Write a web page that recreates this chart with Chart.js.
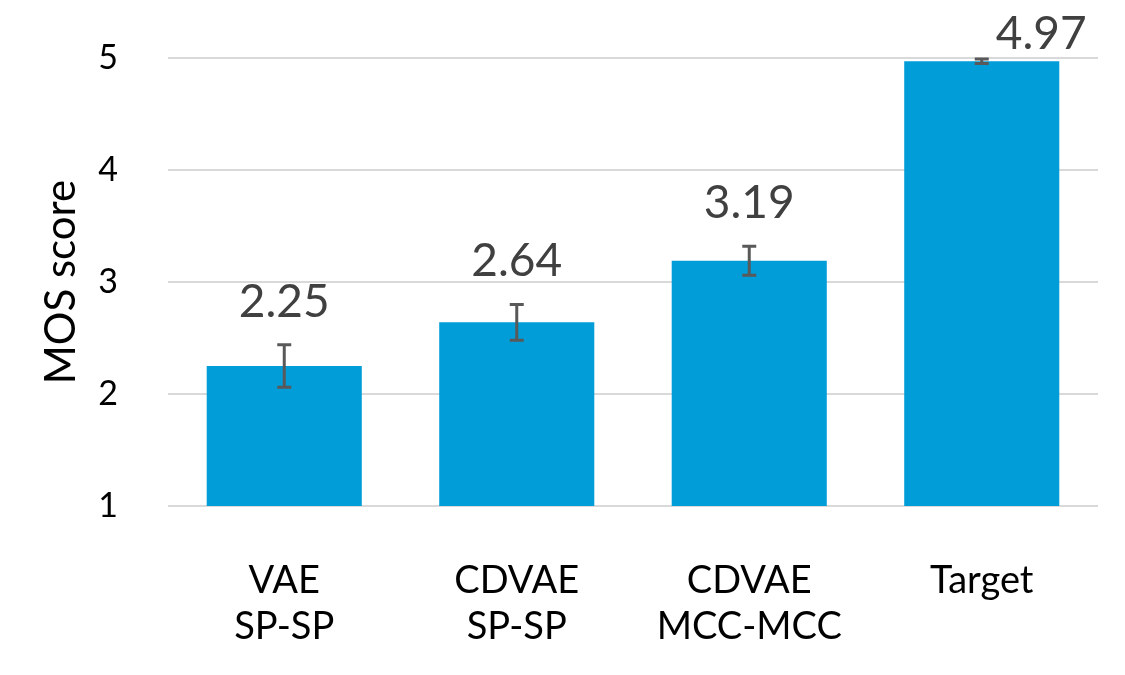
<!DOCTYPE html>
<html>
<head>
<meta charset="utf-8">
<script src="https://cdn.jsdelivr.net/npm/chart.js@4.4.0/dist/chart.umd.min.js"></script>
<style>
  html, body { margin: 0; padding: 0; background: #ffffff; }
  #wrap { width: 1125px; height: 675px; }
</style>
</head>
<body>
<div id="wrap"><canvas id="mosChart" width="1125" height="675"></canvas></div>
<script>
// Datos del gráfico
var categorias = [['VAE', 'SP-SP'], ['CDVAE', 'SP-SP'], ['CDVAE', 'MCC-MCC'], 'Target'];
var puntajes = [2.25, 2.64, 3.19, 4.97];
var errores = [0.19, 0.16, 0.13, 0.02];
var etiquetas = ['2.25', '2.64', '3.19', '4.97'];
var ticksY = [1, 2, 3, 4, 5];

Chart.defaults.font.family = "Lato, 'Open Sans', sans-serif";
Chart.defaults.color = '#000000';

// Barras de error y etiquetas de valor
var errorBarsPlugin = {
    id: 'errorBars',
    afterDatasetsDraw: function (chart) {
        var ctx = chart.ctx;
        var yScale = chart.scales.y;
        var meta = chart.getDatasetMeta(0);
        ctx.save();
        meta.data.forEach(function (bar, i) {
            var x = bar.x;
            var yTop = yScale.getPixelForValue(puntajes[i] + errores[i]);
            var yBot = yScale.getPixelForValue(puntajes[i] - errores[i]);
            ctx.strokeStyle = '#595959';
            ctx.lineWidth = 3;
            ctx.beginPath();
            ctx.moveTo(x, yTop); ctx.lineTo(x, yBot);
            ctx.moveTo(x - 7, yTop); ctx.lineTo(x + 7, yTop);
            ctx.moveTo(x - 7, yBot); ctx.lineTo(x + 7, yBot);
            ctx.stroke();

            ctx.fillStyle = '#404040';
            ctx.font = "46px Lato, 'Open Sans', sans-serif";
            ctx.textBaseline = 'bottom';
            var labelBottom = yTop - 20;
            if (labelBottom < chart.chartArea.top) {
                // no cabe arriba: a la derecha de la barra de error
                ctx.textAlign = 'left';
                ctx.fillText(etiquetas[i], x + 14, bar.y - 4);
            } else {
                ctx.textAlign = 'center';
                ctx.fillText(etiquetas[i], x, labelBottom);
            }
        });
        ctx.restore();
    }
};

new Chart(document.getElementById('mosChart').getContext('2d'), {
    type: 'bar',
    data: {
        labels: categorias,
        datasets: [{
            label: 'MOS',
            data: puntajes,
            backgroundColor: '#019dd8',
            categoryPercentage: 1,
            barPercentage: 0.667
        }]
    },
    options: {
        responsive: false,
        animation: false,
        layout: { padding: { top: 58, right: 27, left: 0, bottom: 0 } },
        plugins: {
            legend: { display: false },
            tooltip: { enabled: false }
        },
        scales: {
            x: {
                afterFit: function (scale) {
                    scale.height = 169;
                    scale.paddingLeft = 0;
                    scale.paddingRight = 0;
                },
                grid: { display: false },
                border: { display: false },
                ticks: {
                    font: { size: 38 },
                    color: '#000000',
                    padding: 44,
                    maxRotation: 0
                }
            },
            y: {
                min: 1,
                max: 5,
                afterFit: function (scale) {
                    scale.width = 168;
                    scale.paddingTop = 0;
                    scale.paddingBottom = 0;
                },
                afterBuildTicks: function (scale) {
                    scale.ticks = ticksY.map(function (v) { return { value: v }; });
                },
                grid: { color: '#d9d9d9', lineWidth: 2, drawTicks: false },
                border: { display: false },
                ticks: {
                    font: { size: 34 },
                    color: '#000000',
                    padding: 50
                },
                title: {
                    display: true,
                    text: 'MOS score',
                    font: { size: 42 },
                    color: '#000000',
                    padding: { top: 36, bottom: 0 }
                }
            }
        }
    },
    plugins: [errorBarsPlugin]
});
</script>
</body>
</html>
